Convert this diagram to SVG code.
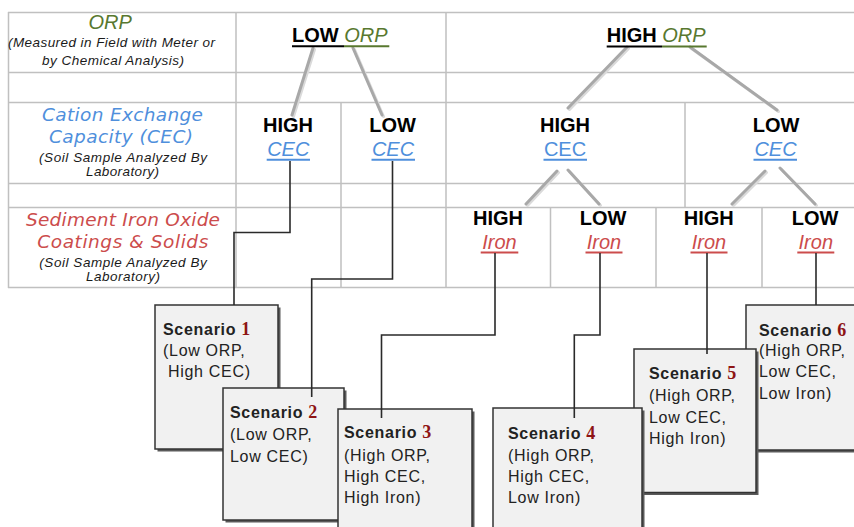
<svg xmlns="http://www.w3.org/2000/svg" width="854" height="527" viewBox="0 0 854 527">
<style>
.grid{stroke:#c0c0c0;stroke-width:1.5;fill:none}
.br{stroke:#a8a8a8;stroke-width:3;stroke-linecap:round;fill:none}
.brs{stroke:#dadada;stroke-width:3;stroke-linecap:round;fill:none}
.con{stroke:#2a2a2a;stroke-width:1.6;fill:none}
.hd{font-family:"DejaVu Sans",Verdana,sans-serif;font-style:italic;font-size:18.5px}
.sub{font-family:"Liberation Sans",Arial,sans-serif;font-style:italic;font-size:13.5px;fill:#1a1a1a}
.lvl{font-family:"Liberation Sans",Arial,sans-serif;font-weight:bold;font-size:20px;fill:#000}
.it{font-family:"Liberation Sans",Arial,sans-serif;font-style:italic;font-weight:normal;font-size:20px}
.orp{fill:#58782f}
.cec{fill:#4f8fdc}
.fe{fill:#cc4c4c}
.box{fill:#f1f1f1;stroke:#333;stroke-width:1.5}
.sh{fill:#5a5a5a}
.bt{font-family:"Liberation Sans",Arial,sans-serif;font-size:16px;fill:#222;letter-spacing:0.7px}
.bt .t{font-weight:bold}
.bt .n{font-family:"Liberation Serif","Times New Roman",serif;font-weight:bold;font-size:18px;fill:#8e1414}
</style>

<g id="grid">
<path class="grid" d="M8,12.5H854 M8,72.5H854 M8,102.5H854 M8,183.5H854 M8,207.5H854 M8,287.5H854"/>
<path class="grid" d="M8.5,12V288 M236,12V288 M446,12V288 M341,102V288 M685,102V208 M550.5,207V288 M656,207V288 M762,207V288"/>
</g>

<g id="row-labels">
<text class="it orp" x="88.5" y="28.5">ORP</text>
<text class="sub" x="8" y="47" textLength="207">(Measured in Field with Meter or</text>
<text class="sub" x="42" y="64.5" textLength="142">by Chemical Analysis)</text>
<text class="hd cec" x="42" y="120.7" textLength="161">Cation Exchange</text>
<text class="hd cec" x="49" y="142.7" textLength="144">Capacity (CEC)</text>
<text class="sub" x="39" y="161.5" textLength="168">(Soil Sample Analyzed By</text>
<text class="sub" x="86" y="176" textLength="73">Laboratory)</text>
<text class="hd fe" x="26" y="226" textLength="194">Sediment Iron Oxide</text>
<text class="hd fe" x="37.3" y="248.3" textLength="171">Coatings &amp; Solids</text>
<text class="sub" x="39.3" y="266.5" textLength="167.4">(Soil Sample Analyzed By</text>
<text class="sub" x="86" y="281" textLength="74">Laboratory)</text>
</g>

<g id="branches">
<path class="brs" d="M314.5,49.5L293.5,116.5 M354.5,49.5L383.5,116.5 M628.5,48.5L569.5,109.5 M691.5,48.5L778.5,111.5 M558.5,172.5L527.5,205.5 M569.5,171.5L600.5,205.5 M766.5,172.5L733.5,205.5 M781.5,169.5L816.5,205.5"/>
<path class="br" d="M313,48L292,115 M353,48L382,115 M627,47L568,108 M690,47L777,110 M557,171L526,204 M568,170L599,204 M765,171L732,204 M780,168L815,204"/>
</g>

<g id="low-orp">
<text x="292" y="42"><tspan class="lvl">LOW </tspan><tspan class="it orp">ORP</tspan></text>
<path d="M292,46.3H344" stroke="#000" stroke-width="2"/>
<path d="M344,46.3H389.3" stroke="#58782f" stroke-width="2"/>
</g>
<g id="high-orp">
<text x="606.7" y="42"><tspan class="lvl">HIGH </tspan><tspan class="it orp">ORP</tspan></text>
<path d="M606.7,46.5H662" stroke="#000" stroke-width="2"/>
<path d="M662,46.5H706.7" stroke="#58782f" stroke-width="2"/>
</g>

<g id="cec-high-1">
<text class="lvl" x="288" y="132" text-anchor="middle">HIGH</text>
<text class="it cec" x="288.3" y="156" text-anchor="middle">CEC</text>
<path d="M266.7,159.8H310" stroke="#4f8fdc" stroke-width="2"/>
</g>
<g id="cec-low-1">
<text class="lvl" x="392.5" y="132" text-anchor="middle">LOW</text>
<text class="it cec" x="393" y="156" text-anchor="middle">CEC</text>
<path d="M371.5,159.8H415" stroke="#4f8fdc" stroke-width="2"/>
</g>
<g id="cec-high-2">
<text class="lvl" x="565" y="132" text-anchor="middle">HIGH</text>
<text class="cec" x="565" y="156" text-anchor="middle" font-family="Liberation Sans, Arial, sans-serif" font-size="20">CEC</text>
<path d="M543.5,159.8H587" stroke="#4f8fdc" stroke-width="2"/>
</g>
<g id="cec-low-2">
<text class="lvl" x="776" y="132" text-anchor="middle">LOW</text>
<text class="it cec" x="775.5" y="156" text-anchor="middle">CEC</text>
<path d="M753.5,159.8H797" stroke="#4f8fdc" stroke-width="2"/>
</g>

<g id="iron-1">
<text class="lvl" x="498" y="225" text-anchor="middle">HIGH</text>
<text class="it fe" x="499.5" y="249.3" text-anchor="middle">Iron</text>
<path d="M480.7,252.5H518.3" stroke="#cc4c4c" stroke-width="2"/>
</g>
<g id="iron-2">
<text class="lvl" x="603" y="225" text-anchor="middle">LOW</text>
<text class="it fe" x="604" y="249.3" text-anchor="middle">Iron</text>
<path d="M585.5,252.5H622.5" stroke="#cc4c4c" stroke-width="2"/>
</g>
<g id="iron-3">
<text class="lvl" x="708.7" y="225" text-anchor="middle">HIGH</text>
<text class="it fe" x="709" y="249.3" text-anchor="middle">Iron</text>
<path d="M690.5,252.5H727.5" stroke="#cc4c4c" stroke-width="2"/>
</g>
<g id="iron-4">
<text class="lvl" x="815" y="225" text-anchor="middle">LOW</text>
<text class="it fe" x="815.8" y="249.3" text-anchor="middle">Iron</text>
<path d="M797.3,252.5H834.3" stroke="#cc4c4c" stroke-width="2"/>
</g>

<g id="scenario-1">
<rect class="sh" x="157.5" y="307.5" width="123" height="144"/>
<rect class="box" x="155" y="305" width="123" height="144"/>
<text class="bt"><tspan x="163" y="335"><tspan class="t">Scenario </tspan><tspan class="n">1</tspan></tspan><tspan x="163" y="356">(Low ORP,</tspan><tspan x="168" y="377">High CEC)</tspan></text>
</g>
<g id="scenario-2">
<rect class="sh" x="225.5" y="390.5" width="121" height="132"/>
<rect class="box" x="223" y="388" width="121" height="132"/>
<text class="bt"><tspan x="230" y="418"><tspan class="t">Scenario </tspan><tspan class="n">2</tspan></tspan><tspan x="230" y="440">(Low ORP,</tspan><tspan x="230" y="461.5">Low CEC)</tspan></text>
</g>
<g id="scenario-3">
<rect class="sh" x="340.5" y="411.5" width="134" height="130"/>
<rect class="box" x="338" y="409" width="134" height="130"/>
<text class="bt"><tspan x="344" y="438"><tspan class="t">Scenario </tspan><tspan class="n">3</tspan></tspan><tspan x="344" y="460.5">(High ORP,</tspan><tspan x="344" y="481.5">High CEC,</tspan><tspan x="344" y="502.5">High Iron)</tspan></text>
</g>
<g id="scenario-6">
<rect class="sh" x="748.5" y="307.5" width="120" height="145"/>
<rect class="box" x="746" y="305" width="120" height="145"/>
<text class="bt"><tspan x="759" y="335.5"><tspan class="t">Scenario </tspan><tspan class="n">6</tspan></tspan><tspan x="759" y="356">(High ORP,</tspan><tspan x="759" y="377">Low CEC,</tspan><tspan x="759" y="399">Low Iron)</tspan></text>
</g>
<g id="scenario-5">
<rect class="sh" x="636.5" y="351.5" width="122" height="143.5"/>
<rect class="box" x="634" y="349" width="122" height="143.5"/>
<text class="bt"><tspan x="649" y="379"><tspan class="t">Scenario </tspan><tspan class="n">5</tspan></tspan><tspan x="649" y="401">(High ORP,</tspan><tspan x="649" y="422.5">Low CEC,</tspan><tspan x="649" y="444">High Iron)</tspan></text>
</g>
<g id="scenario-4">
<rect class="sh" x="495.5" y="410.5" width="149" height="130"/>
<rect class="box" x="493" y="408" width="149" height="130"/>
<text class="bt"><tspan x="508" y="439"><tspan class="t">Scenario </tspan><tspan class="n">4</tspan></tspan><tspan x="508" y="461">(High ORP,</tspan><tspan x="508" y="482">High CEC,</tspan><tspan x="508" y="503">Low Iron)</tspan></text>
</g>

<g id="connectors">
<path class="con" d="M290,161V232.5H234V305"/>
<path class="con" d="M392.5,161V279H311.7V397"/>
<path class="con" d="M495,253V335H381.5V418"/>
<path class="con" d="M600,253V335H574.3V418"/>
<path class="con" d="M707,253V354"/>
<path class="con" d="M816,253V305"/>
</g>
</svg>
